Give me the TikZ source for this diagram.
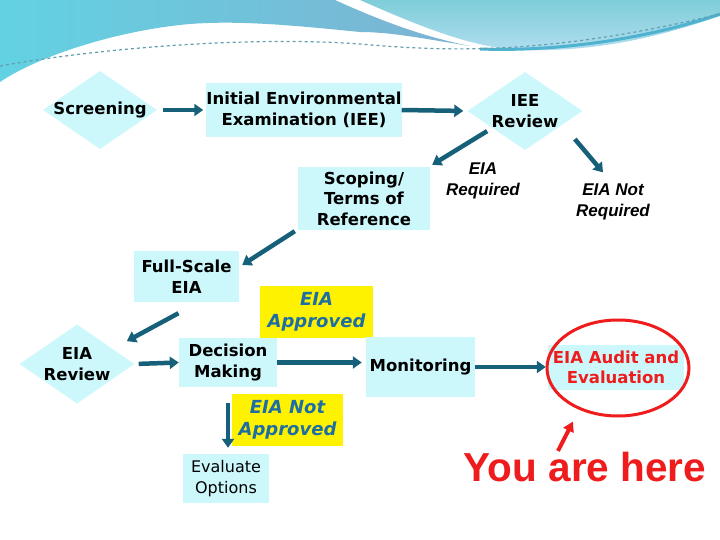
\documentclass[tikz,border=0pt]{standalone}
\usepackage{fontspec}
\setmainfont{DejaVu Sans}
\newfontfamily\arialfont{Liberation Sans}
\usepackage{tikz}
\usetikzlibrary{arrows.meta,positioning,calc,shapes.geometric}
\definecolor{paleCyan}{HTML}{CCF8FC}
\definecolor{flowTeal}{HTML}{17607A}
\definecolor{noteBlue}{HTML}{1C6EA4}
\definecolor{alertRed}{HTML}{EE1C1C}
\definecolor{waveBlue}{HTML}{7EB2D2}
\definecolor{waveCyan}{HTML}{62D2E2}
\definecolor{waveLight}{HTML}{B2DEF0}
\definecolor{waveMid}{HTML}{7ECDD8}
\definecolor{waveDeep}{HTML}{4FB2CF}

\begin{document}
\begin{tikzpicture}[
    x=1pt, y=-1pt,
    every node/.style={font=\fontsize{16.5}{20.5}\selectfont\bfseries, align=center},
    stepbox/.style={fill=paleCyan, inner sep=0pt},
    decision/.style={diamond, fill=paleCyan, inner sep=0pt},
    notebox/.style={fill=yellow, inner sep=0pt, text=noteBlue, font=\fontsize{18}{22.5}\selectfont\bfseries\itshape},
    outcome/.style={font=\arialfont\fontsize{17}{21}\selectfont\bfseries\itshape},
    flow/.style={-{Triangle[length=9pt,width=12pt]}, line width=4.5pt, draw=flowTeal}
]
    % page and header wave
    \useasboundingbox (0,0) rectangle (720,540);
    \fill[white] (0,0) rectangle (720,540);
    \shade[top color=waveMid, bottom color=waveLight] (360,0) -- (720,0) -- (720,16)
        .. controls (650,40) and (590,52) .. (520,50)
        .. controls (470,48) and (410,22) .. (360,0) -- cycle;
    \draw[waveDeep, line width=3pt] (480,49) .. controls (560,52) and (650,38) .. (720,14);
    \shade[left color=waveCyan, right color=waveBlue] (0,0) -- (335,0)
        .. controls (390,25) and (430,38) .. (470,46)
        .. controls (420,38) and (390,32) .. (360,32)
        .. controls (300,26) and (240,20) .. (190,24)
        .. controls (120,30) and (40,55) .. (0,82) -- cycle;
    \draw[waveDeep!60!gray, dashed, line width=1.2pt] (0,66)
        .. controls (100,48) and (250,36) .. (360,44)
        .. controls (450,52) and (550,55) .. (720,14);

    % steps
    \node[decision, minimum width=114pt, minimum height=78pt] (screen) at (100,110) {};
    \node (screentxt) at (screen) {Screening};
    \node[stepbox, minimum width=188pt, minimum height=54pt] (iee) at (304,110) {Initial Environmental\\Examination (IEE)};
    \node[decision, minimum width=115pt, minimum height=78pt] (ieerev) at (525,111) {};
    \node (ieerevtxt) at (ieerev) {IEE\\Review};
    \node[outcome] (req) at (483,181) {EIA\\Required};
    \node[outcome] (notreq) at (613,202) {EIA Not\\Required};
    \node[stepbox, minimum width=132pt, minimum height=63pt] (scope) at (364,198.5) {Scoping/\\Terms of\\Reference};
    \node[stepbox, minimum width=105pt, minimum height=51pt] (full) at (186.5,276.5) {Full-Scale\\EIA};
    \node[notebox, minimum width=113pt, minimum height=52pt] (appr) at (316.5,312) {EIA\\Approved};
    \node[decision, minimum width=115pt, minimum height=79pt] (eiarev) at (77,364) {};
    \node (eiarevtxt) at (eiarev) {EIA\\Review};
    \node[stepbox, minimum width=98pt, minimum height=49pt] (decide) at (228,362.5) {Decision\\Making};
    \node[stepbox, minimum width=109pt, minimum height=60pt] (monit) at (420.5,367) {Monitoring};
    \node[stepbox, minimum width=136pt, minimum height=45pt, text=alertRed] (audit) at (616,367.5) {EIA Audit and\\Evaluation};
    \node[draw=alertRed, line width=3pt, ellipse, minimum width=142pt, minimum height=96pt] (ring) at (618,368) {};
    \node[notebox, minimum width=111pt, minimum height=52pt] (notappr) at (287.5,420) {EIA Not\\Approved};
    \node[stepbox, minimum width=86pt, minimum height=49pt, font=\fontsize{16}{20.5}\selectfont] (eval) at (226,478.5) {Evaluate\\Options};
    \node[inner sep=0pt, text=alertRed, font=\arialfont\fontsize{40.5}{46}\selectfont\bfseries] (here) at (585,467) {You are here};

    % connectors
    \draw[flow, shorten <=6pt, shorten >=3pt] (screen.east) -- (iee.west);
    \draw[flow, shorten >=4pt] (iee.east) -- (ieerev.west);
    \draw[flow] ($(ieerev.south west)+(-9,0.5)$) -- ($(scope.north east)+(2,-2)$);
    \draw[flow] ($(ieerev.south east)+(21,8.5)$) -- ($(notreq.north)+(-10,-8)$);
    \draw[flow] ($(scope.south west)+(-3,1)$) -- ($(full.east)+(3,-11.5)$);
    \draw[flow] ($(full.south)+(-8,11)$) -- ($(eiarev.north east)+(21,-3)$);
    \draw[flow, shorten <=4pt] (eiarev.east) -- (decide.west);
    \draw[flow, shorten >=4pt] (decide.east) -- (decide.east -| monit.west);
    \draw[flow, shorten >=2pt] (monit.east) -- (monit.east -| audit.west);
    \draw[flow, shorten <=16pt, shorten >=6pt] (decide.south) -- (decide.south |- eval.north);
    \draw[alertRed, line width=4pt, -{Triangle[length=10pt,width=11pt]}] ($(here.north)+(-27,-1)$) -- ($(ring.south)+(-45,4)$);
\end{tikzpicture}
\end{document}
